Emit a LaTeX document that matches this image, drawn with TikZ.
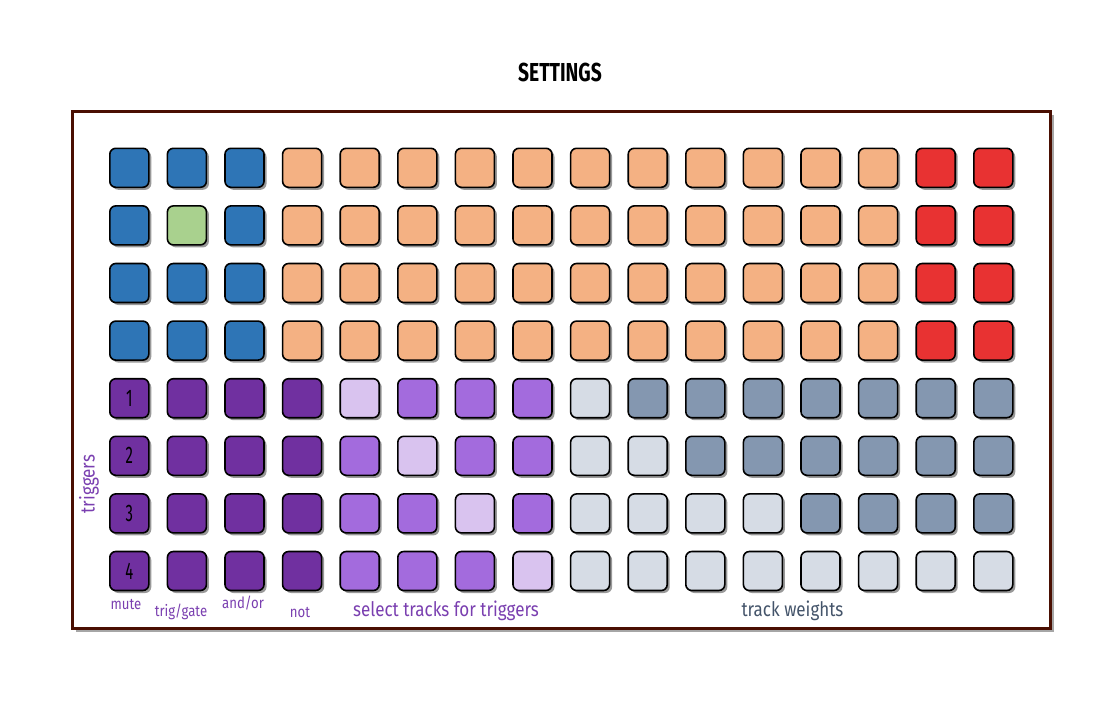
\documentclass[tikz,border=0pt]{standalone}
\usepackage{fontspec}
\newfontfamily\agency[FakeStretch=0.85]{Fira Sans}
\newfontfamily\agencytitle[FakeStretch=0.74]{Fira Sans}
\newfontfamily\agencynarrow[FakeStretch=0.62]{Fira Sans}
\usetikzlibrary{shadows}

\definecolor{frameclr}{HTML}{4A0F02}
\definecolor{padblue}{HTML}{2E75B6}
\definecolor{padgreen}{HTML}{A9D18E}
\definecolor{padorange}{HTML}{F4B183}
\definecolor{padred}{HTML}{E83232}
\definecolor{darkpurple}{HTML}{7030A0}
\definecolor{midpurple}{HTML}{A36BDD}
\definecolor{lightpurple}{HTML}{D9C3EF}
\definecolor{lightgrey}{HTML}{D6DCE5}
\definecolor{greyblue}{HTML}{8497B0}
\definecolor{labpurple}{HTML}{7A3FB0}
\definecolor{labslate}{HTML}{44546A}

\tikzset{
  pad/.style={draw=black, line width=1.6pt, rounded corners=6pt,
    minimum size=39pt, inner sep=0pt,
    drop shadow={shadow xshift=2.5pt, shadow yshift=-2.5pt, opacity=0.4, fill=black}},
  padnum/.style={font=\agencynarrow\fontsize{24}{24}\selectfont, text=black},
  lbl/.style={font=\agency\fontsize{20}{20}\selectfont, text=labpurple},
  smalllbl/.style={lbl, font=\agency\fontsize{15.5}{15.5}\selectfont},
}

\begin{document}
\begin{tikzpicture}[x=1pt, y=-1pt]
  \useasboundingbox (0,0) rectangle (1104,720);

  % Title and frame
  \node[font=\agencytitle\bfseries\fontsize{26}{26}\selectfont] (title) at (560,72) {SETTINGS};
  \draw[frameclr, line width=3pt, fill=white,
    drop shadow={shadow xshift=3.5pt, shadow yshift=-3.5pt, opacity=0.35, fill=black}]
    (72.5,111) rectangle (1050.5,628);

  % Top block
  \foreach \r in {1,...,4}{
    \foreach \c in {1,...,16}{
      \ifnum\c<4 \def\col{padblue}\fi
      \ifnum\c>3 \def\col{padorange}\fi
      \ifnum\c>14 \def\col{padred}\fi
      \ifnum\r=2 \ifnum\c=2 \def\col{padgreen}\fi\fi
      \node[pad, fill=\col] (p-\r-\c) at ({129.3+(\c-1)*57.6},{167.8+(\r-1)*57.6}) {};
    }
  }

  % Bottom block
  \foreach \r/\t in {5/9, 6/10, 7/12, 8/16}{
    \foreach \c in {1,...,16}{
      \ifnum\c<5 \def\col{darkpurple}\fi
      \ifnum\c>4 \def\col{midpurple}\fi
      \ifnum\c=\r \def\col{lightpurple}\fi
      \ifnum\c>8 \def\col{lightgrey}\fi
      \ifnum\c>\t \def\col{greyblue}\fi
      \node[pad, fill=\col] (p-\r-\c) at ({129.3+(\c-1)*57.6},{167.8+(\r-1)*57.6}) {};
    }
  }

  % Trigger numbers
  \foreach \n in {1,...,4}{
    \pgfmathtruncatemacro\rr{\n+4}
    \node[padnum] (num-\n) at (p-\rr-1) {\n};
  }

  % Labels
  \node[smalllbl] (mute) at (126,604) {mute};
  \node[smalllbl] (trig) at (181,612) {trig/gate};
  \node[smalllbl] (andor) at (243,603) {and/or};
  \node[smalllbl] (not) at (300,612) {not};
  \node[lbl] (select) at (446,611) {select tracks for triggers};
  \node[lbl, text=labslate] (weights) at (792.5,611) {track weights};
  \node[lbl, rotate=90] (triggers) at (89,484) {triggers};
\end{tikzpicture}
\end{document}
